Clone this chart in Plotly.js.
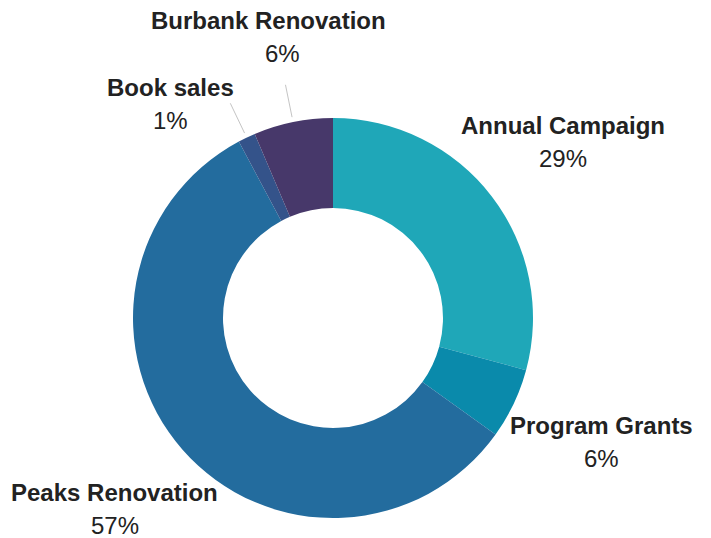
<!DOCTYPE html>
<html>
<head>
<meta charset="utf-8">
<script src="https://cdn.plot.ly/plotly-3.0.1.min.js"></script>
<style>
  html, body { margin: 0; padding: 0; background: #fff; }
  #chart { width: 711px; height: 538px; }
</style>
</head>
<body>
<div id="chart"></div>
<script>
// chart data
const labels = ['Annual Campaign', 'Program Grants', 'Peaks Renovation', 'Book sales', 'Burbank Renovation'];
const values = [29.2, 5.7, 57.3, 1.4, 6.4];
const colors = ['#1fa7b8', '#0a8aab', '#236c9e', '#34538a', '#47386a'];

// slices that get a leader line to their label
const withLeader = ['Book sales', 'Burbank Renovation'];
// labels pushed away from neighbours / edges (pixels): [dx, dy, nameDx, pctDx]
const labelNudge = {
  'Book sales': [-37, 48, 0, 0],
  'Program Grants': [6, 0, 0, 0],
  'Burbank Renovation': [0, 3, -7, 7]
};

const W = 711, H = 538;
const margin = { l: 133, r: 178, t: 118, b: 20 };
const cx = margin.l + 200, cy = margin.t + 200;

const toPaperX = px => (px - margin.l) / (W - margin.l - margin.r);
const toPaperY = py => (H - margin.b - py) / (H - margin.t - margin.b);

const labelFont = { family: 'Liberation Sans, Arial, sans-serif', size: 24, color: '#222' };

const total = values.reduce((a, b) => a + b, 0);
const annotations = [];
const shapes = [];
let cum = 0;
values.forEach((v, i) => {
  const theta = (cum + v / 2) / total * 2 * Math.PI;
  cum += v;
  const s = Math.sin(theta), c = Math.cos(theta);
  const n = labelNudge[labels[i]] || [0, 0, 0, 0];
  const lx = cx + 290 * s + n[0];
  const ly = cy - 290 * c + n[1];
  const pct = Math.round(v / total * 100);
  // name line
  annotations.push({
    xref: 'paper', yref: 'paper',
    x: toPaperX(lx + n[2]), y: toPaperY(ly - 16.5),
    xanchor: 'center', yanchor: 'middle',
    text: '<b>' + labels[i] + '</b>',
    showarrow: false,
    font: labelFont
  });
  // percentage line
  annotations.push({
    xref: 'paper', yref: 'paper',
    x: toPaperX(lx + n[3]), y: toPaperY(ly + 16.5),
    xanchor: 'center', yanchor: 'middle',
    text: pct + '%',
    showarrow: false,
    font: labelFont
  });
  if (withLeader.includes(labels[i])) {
    shapes.push({
      type: 'line', xref: 'paper', yref: 'paper',
      x0: toPaperX(cx + 205 * s), y0: toPaperY(cy - 205 * c),
      x1: toPaperX(cx + 238 * s), y1: toPaperY(cy - 238 * c),
      line: { color: '#c4c4c4', width: 1 }
    });
  }
});

const plotData = [{
  type: 'pie',
  labels: labels,
  values: values,
  hole: 0.55,
  sort: false,
  direction: 'clockwise',
  rotation: 0,
  textinfo: 'none',
  marker: { colors: colors, line: { width: 0 } },
  showlegend: false
}];

const layout = {
  width: W,
  height: H,
  margin: margin,
  paper_bgcolor: '#ffffff',
  plot_bgcolor: '#ffffff',
  annotations: annotations,
  shapes: shapes
};

Plotly.newPlot('chart', plotData, layout, { staticPlot: true });
</script>
</body>
</html>
